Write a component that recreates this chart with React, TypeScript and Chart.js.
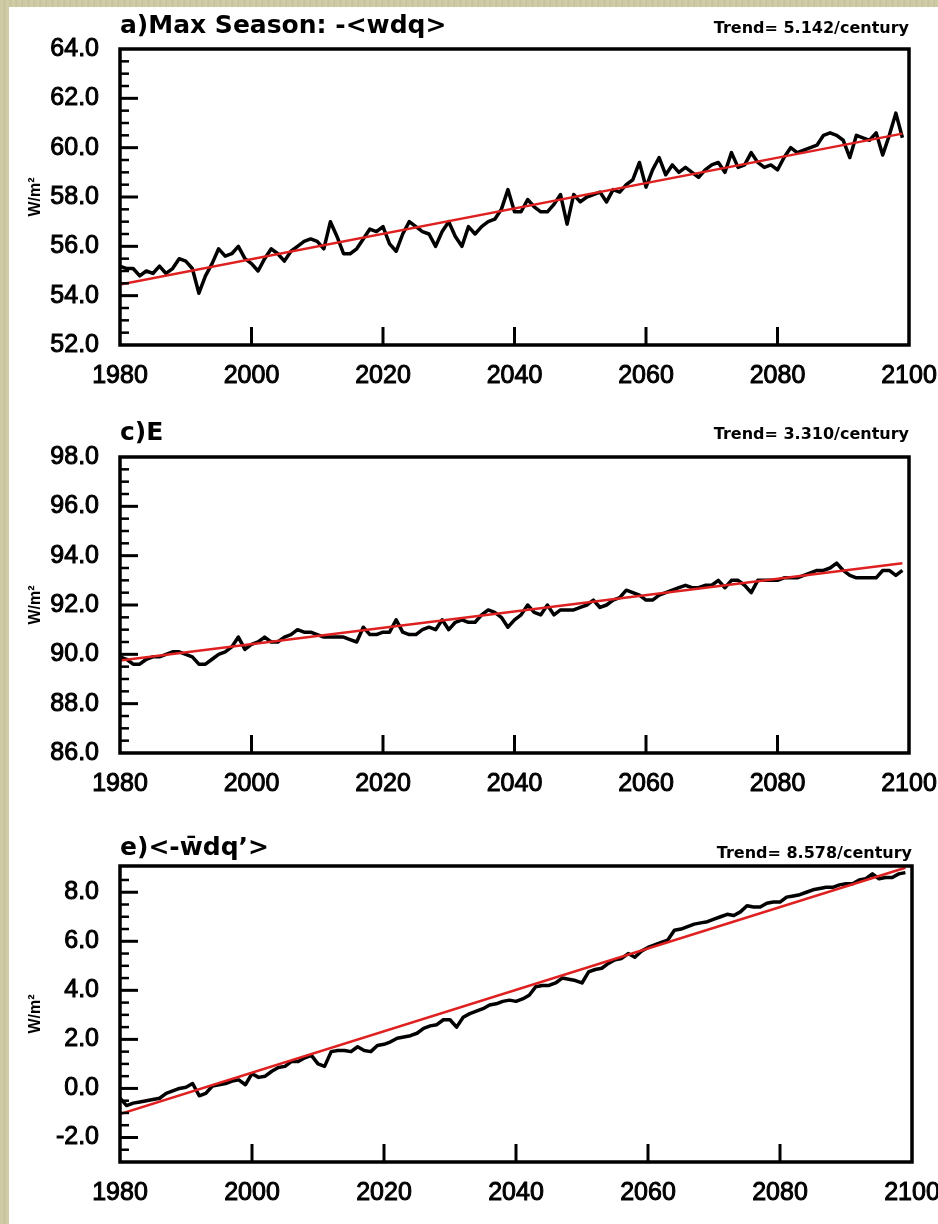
import React, { useEffect, useRef } from "react";
import { Chart, registerables } from "chart.js";

Chart.register(...registerables);

// ---------------- data ----------------
const START_YEAR = 1980;

const SERIES_A = [
  55.2, 55.1, 55.1, 54.8, 55.0, 54.9, 55.2, 54.9, 55.1, 55.5,
  55.4, 55.1, 54.1, 54.8, 55.3, 55.9, 55.6, 55.7, 56.0, 55.5,
  55.3, 55.0, 55.5, 55.9, 55.7, 55.4, 55.8, 56.0, 56.2, 56.3,
  56.2, 55.9, 57.0, 56.4, 55.7, 55.7, 55.9, 56.3, 56.7, 56.6,
  56.8, 56.1, 55.8, 56.5, 57.0, 56.8, 56.6, 56.5, 56.0, 56.6,
  57.0, 56.4, 56.0, 56.8, 56.5, 56.8, 57.0, 57.1, 57.5, 58.3,
  57.4, 57.4, 57.9, 57.6, 57.4, 57.4, 57.7, 58.1, 56.9, 58.1,
  57.8, 58.0, 58.1, 58.2, 57.8, 58.3, 58.2, 58.5, 58.7, 59.4,
  58.4, 59.1, 59.6, 58.9, 59.3, 59.0, 59.2, 59.0, 58.8, 59.1,
  59.3, 59.4, 59.0, 59.8, 59.2, 59.3, 59.8, 59.4, 59.2, 59.3,
  59.1, 59.6, 60.0, 59.8, 59.9, 60.0, 60.1, 60.5, 60.6, 60.5,
  60.3, 59.6, 60.5, 60.4, 60.3, 60.6, 59.7, 60.5, 61.4, 60.4,
];

const SERIES_C = [
  89.9, 89.8, 89.6, 89.6, 89.8, 89.9, 89.9, 90.0, 90.1, 90.1,
  90.0, 89.9, 89.6, 89.6, 89.8, 90.0, 90.1, 90.3, 90.7, 90.2,
  90.4, 90.5, 90.7, 90.5, 90.5, 90.7, 90.8, 91.0, 90.9, 90.9,
  90.8, 90.7, 90.7, 90.7, 90.7, 90.6, 90.5, 91.1, 90.8, 90.8,
  90.9, 90.9, 91.4, 90.9, 90.8, 90.8, 91.0, 91.1, 91.0, 91.4,
  91.0, 91.3, 91.4, 91.3, 91.3, 91.6, 91.8, 91.7, 91.5, 91.1,
  91.4, 91.6, 92.0, 91.7, 91.6, 92.0, 91.6, 91.8, 91.8, 91.8,
  91.9, 92.0, 92.2, 91.9, 92.0, 92.2, 92.3, 92.6, 92.5, 92.4,
  92.2, 92.2, 92.4, 92.5, 92.6, 92.7, 92.8, 92.7, 92.7, 92.8,
  92.8, 93.0, 92.7, 93.0, 93.0, 92.8, 92.5, 93.0, 93.0, 93.0,
  93.0, 93.1, 93.1, 93.1, 93.2, 93.3, 93.4, 93.4, 93.5, 93.7,
  93.4, 93.2, 93.1, 93.1, 93.1, 93.1, 93.4, 93.4, 93.2, 93.4,
];

const SERIES_E = [
  -0.4, -0.7, -0.6, -0.55, -0.5, -0.45, -0.4, -0.2, -0.1, 0.0,
  0.05, 0.2, -0.3, -0.2, 0.1, 0.15, 0.2, 0.3, 0.35, 0.15,
  0.6, 0.45, 0.5, 0.7, 0.85, 0.9, 1.1, 1.1, 1.25, 1.35,
  1.0, 0.9, 1.5, 1.55, 1.55, 1.5, 1.7, 1.55, 1.5, 1.75,
  1.8, 1.9, 2.05, 2.1, 2.15, 2.25, 2.45, 2.55, 2.6, 2.8,
  2.8, 2.5, 2.9, 3.05, 3.15, 3.25, 3.4, 3.45, 3.55, 3.6,
  3.55, 3.65, 3.8, 4.15, 4.2, 4.2, 4.3, 4.5, 4.45, 4.4,
  4.3, 4.75, 4.85, 4.9, 5.1, 5.25, 5.3, 5.5, 5.35, 5.6,
  5.75, 5.85, 5.95, 6.05, 6.45, 6.5, 6.6, 6.7, 6.75, 6.8,
  6.9, 7.0, 7.1, 7.05, 7.2, 7.45, 7.4, 7.4, 7.55, 7.6,
  7.6, 7.8, 7.85, 7.9, 8.0, 8.1, 8.15, 8.2, 8.2, 8.3,
  8.35, 8.35, 8.5, 8.55, 8.75, 8.55, 8.6, 8.6, 8.75, 8.8,
];

const YEARS = SERIES_A.map((_, i) => START_YEAR + i);

const TREND_YEARS = [1980, 2099];
const TREND_A = [54.45, 60.57];
const TREND_C = [89.75, 93.69];
const TREND_E = [-1.05, 9.0];

const X_TICKS = [1980, 2000, 2020, 2040, 2060, 2080, 2100];
const Y_TICKS_A = [52, 54, 56, 58, 60, 62, 64];
const Y_TICKS_C = [86, 88, 90, 92, 94, 96, 98];
const Y_TICKS_E = [-2, 0, 2, 4, 6, 8];

const TITLES = ["a)Max Season: -<wdq>", "c)E", "e)<-w\u0304dq\u2019>"];
const TREND_LABELS = [
  "Trend= 5.142/century",
  "Trend= 3.310/century",
  "Trend= 8.578/century",
];
const Y_UNIT = "W/m\u00B2";

// ---------------- layout ----------------
const W = 938;
const PANELS = [
  { series: SERIES_A, trend: TREND_A, yTicks: Y_TICKS_A, yMin: 52, yMax: 64, canvasTop: 0, height: 405, padTop: 49, xHeight: 60, right: 909, titleGap: 16, trendGap: 16 },
  { series: SERIES_C, trend: TREND_C, yTicks: Y_TICKS_C, yMin: 86, yMax: 98, canvasTop: 405, height: 410, padTop: 52, xHeight: 62, right: 909, titleGap: 17, trendGap: 18 },
  { series: SERIES_E, trend: TREND_E, yTicks: Y_TICKS_E, yMin: -3, yMax: 9.07, canvasTop: 815, height: 409, padTop: 51, xHeight: 62, right: 912, titleGap: 11, trendGap: 8 },
];

const TICK_FONT = { family: '"Liberation Sans", Arial, Helvetica, sans-serif', size: 25, weight: "normal" as const };

function Panel({ idx }: { idx: number }) {
  const ref = useRef<HTMLCanvasElement | null>(null);
  const p = PANELS[idx];

  useEffect(() => {
    if (!ref.current) return;
    const decor = {
      id: "decor" + idx,
      afterDraw(chart: any) {
        const ctx = chart.ctx as CanvasRenderingContext2D;
        const a = chart.chartArea;
        const xs = chart.scales.x;
        const ys = chart.scales.y;
        ctx.save();
        ctx.strokeStyle = "#000";
        ctx.lineCap = "butt";
        // y minor/major ticks (inward)
        const minorStep = 0.5;
        for (let v = p.yMin; v <= p.yMax + 1e-9; v += minorStep) {
          const vy = Math.round(v * 100) / 100;
          const y = ys.getPixelForValue(vy);
          if (y < a.top + 2 || y > a.bottom - 2) continue;
          const isMajor = p.yTicks.some((t) => Math.abs(t - vy) < 1e-6);
          ctx.lineWidth = isMajor ? 3 : 2.5;
          ctx.beginPath();
          ctx.moveTo(a.left, y);
          ctx.lineTo(a.left + (isMajor ? 18 : 9), y);
          ctx.stroke();
        }
        // x major ticks (inward)
        X_TICKS.forEach((t) => {
          const x = xs.getPixelForValue(t);
          if (x < a.left + 2 || x > a.right - 2) return;
          ctx.lineWidth = 3;
          ctx.beginPath();
          ctx.moveTo(x, a.bottom);
          ctx.lineTo(x, a.bottom - 18);
          ctx.stroke();
        });
        // frame
        ctx.lineWidth = 3.5;
        ctx.strokeRect(a.left, a.top, a.right - a.left, a.bottom - a.top);
        // titles
        ctx.fillStyle = "#000";
        ctx.textBaseline = "alphabetic";
        ctx.textAlign = "left";
        ctx.font = 'bold 25px "DejaVu Sans", sans-serif';
        ctx.fillText(TITLES[idx], a.left, a.top - p.titleGap);
        ctx.textAlign = "right";
        ctx.font = 'bold 16px "DejaVu Sans", sans-serif';
        ctx.fillText(TREND_LABELS[idx], a.right, a.top - p.trendGap);
        // y unit
        ctx.translate(36, (a.top + a.bottom) / 2);
        ctx.rotate(-Math.PI / 2);
        ctx.textAlign = "center";
        ctx.textBaseline = "middle";
        ctx.font = 'bold 16px "Liberation Sans", Arial, sans-serif';
        ctx.fillText(Y_UNIT, 0, 0);
        ctx.restore();
      },
    };

    const chart = new Chart(ref.current, {
      type: "line",
      data: {
        datasets: [
          {
            data: TREND_YEARS.map((x, i) => ({ x, y: p.trend[i] })),
            borderColor: "rgb(222,32,32)",
            borderWidth: 2.5,
            pointRadius: 0,
            fill: false,
          },
          {
            data: YEARS.map((x, i) => ({ x, y: p.series[i] })),
            borderColor: "#000",
            borderWidth: 3.5,
            pointRadius: 0,
            fill: false,
            borderJoinStyle: "round",
          },
        ],
      },
      options: {
        responsive: false,
        animation: false,
        devicePixelRatio: 1,
        layout: { padding: { top: p.padTop, left: 0, right: W - p.right, bottom: 0 } },
        plugins: { legend: { display: false }, tooltip: { enabled: false }, title: { display: false } },
        scales: {
          x: {
            type: "linear",
            min: 1980,
            max: 2100,
            grid: { display: false, drawTicks: false },
            border: { display: false },
            afterBuildTicks: (s: any) => {
              s.ticks = X_TICKS.map((v) => ({ value: v }));
            },
            afterFit: (s: any) => {
              s.height = p.xHeight;
              s.paddingLeft = 0;
              s.paddingRight = 0;
            },
            ticks: {
              autoSkip: false,
              maxRotation: 0,
              minRotation: 0,
              padding: 16,
              color: "#000",
              textStrokeColor: "#000",
              textStrokeWidth: 1,
              font: TICK_FONT,
              callback: (v: any) => String(v),
            },
          },
          y: {
            type: "linear",
            min: p.yMin,
            max: p.yMax,
            grid: { display: false, drawTicks: false },
            border: { display: false },
            afterBuildTicks: (s: any) => {
              s.ticks = p.yTicks.map((v) => ({ value: v }));
            },
            afterFit: (s: any) => {
              s.width = 120;
            },
            ticks: {
              padding: 21,
              color: "#000",
              textStrokeColor: "#000",
              textStrokeWidth: 1,
              font: TICK_FONT,
              callback: (v: any) => Number(v).toFixed(1),
            },
          },
        },
      },
      plugins: [decor],
    } as any);
    return () => chart.destroy();
  }, [idx]);

  return (
    <canvas
      ref={ref}
      width={W}
      height={p.height}
      style={{ position: "absolute", left: 0, top: p.canvasTop, width: W, height: p.height }}
    />
  );
}

export default function App() {
  return (
    <div
      style={{
        position: "absolute",
        left: 0,
        top: 0,
        width: 938,
        height: 1224,
        overflow: "hidden",
        background:
          "repeating-linear-gradient(90deg, #c9c6a0 0px, #d3d0ab 2px, #c4c19a 4px, #cfcca7 6px)",
      }}
    >
      <div style={{ position: "absolute", left: 9, top: 7, width: 929, height: 1217, background: "#fff" }} />
      {PANELS.map((_, i) => (
        <Panel key={i} idx={i} />
      ))}
    </div>
  );
}
